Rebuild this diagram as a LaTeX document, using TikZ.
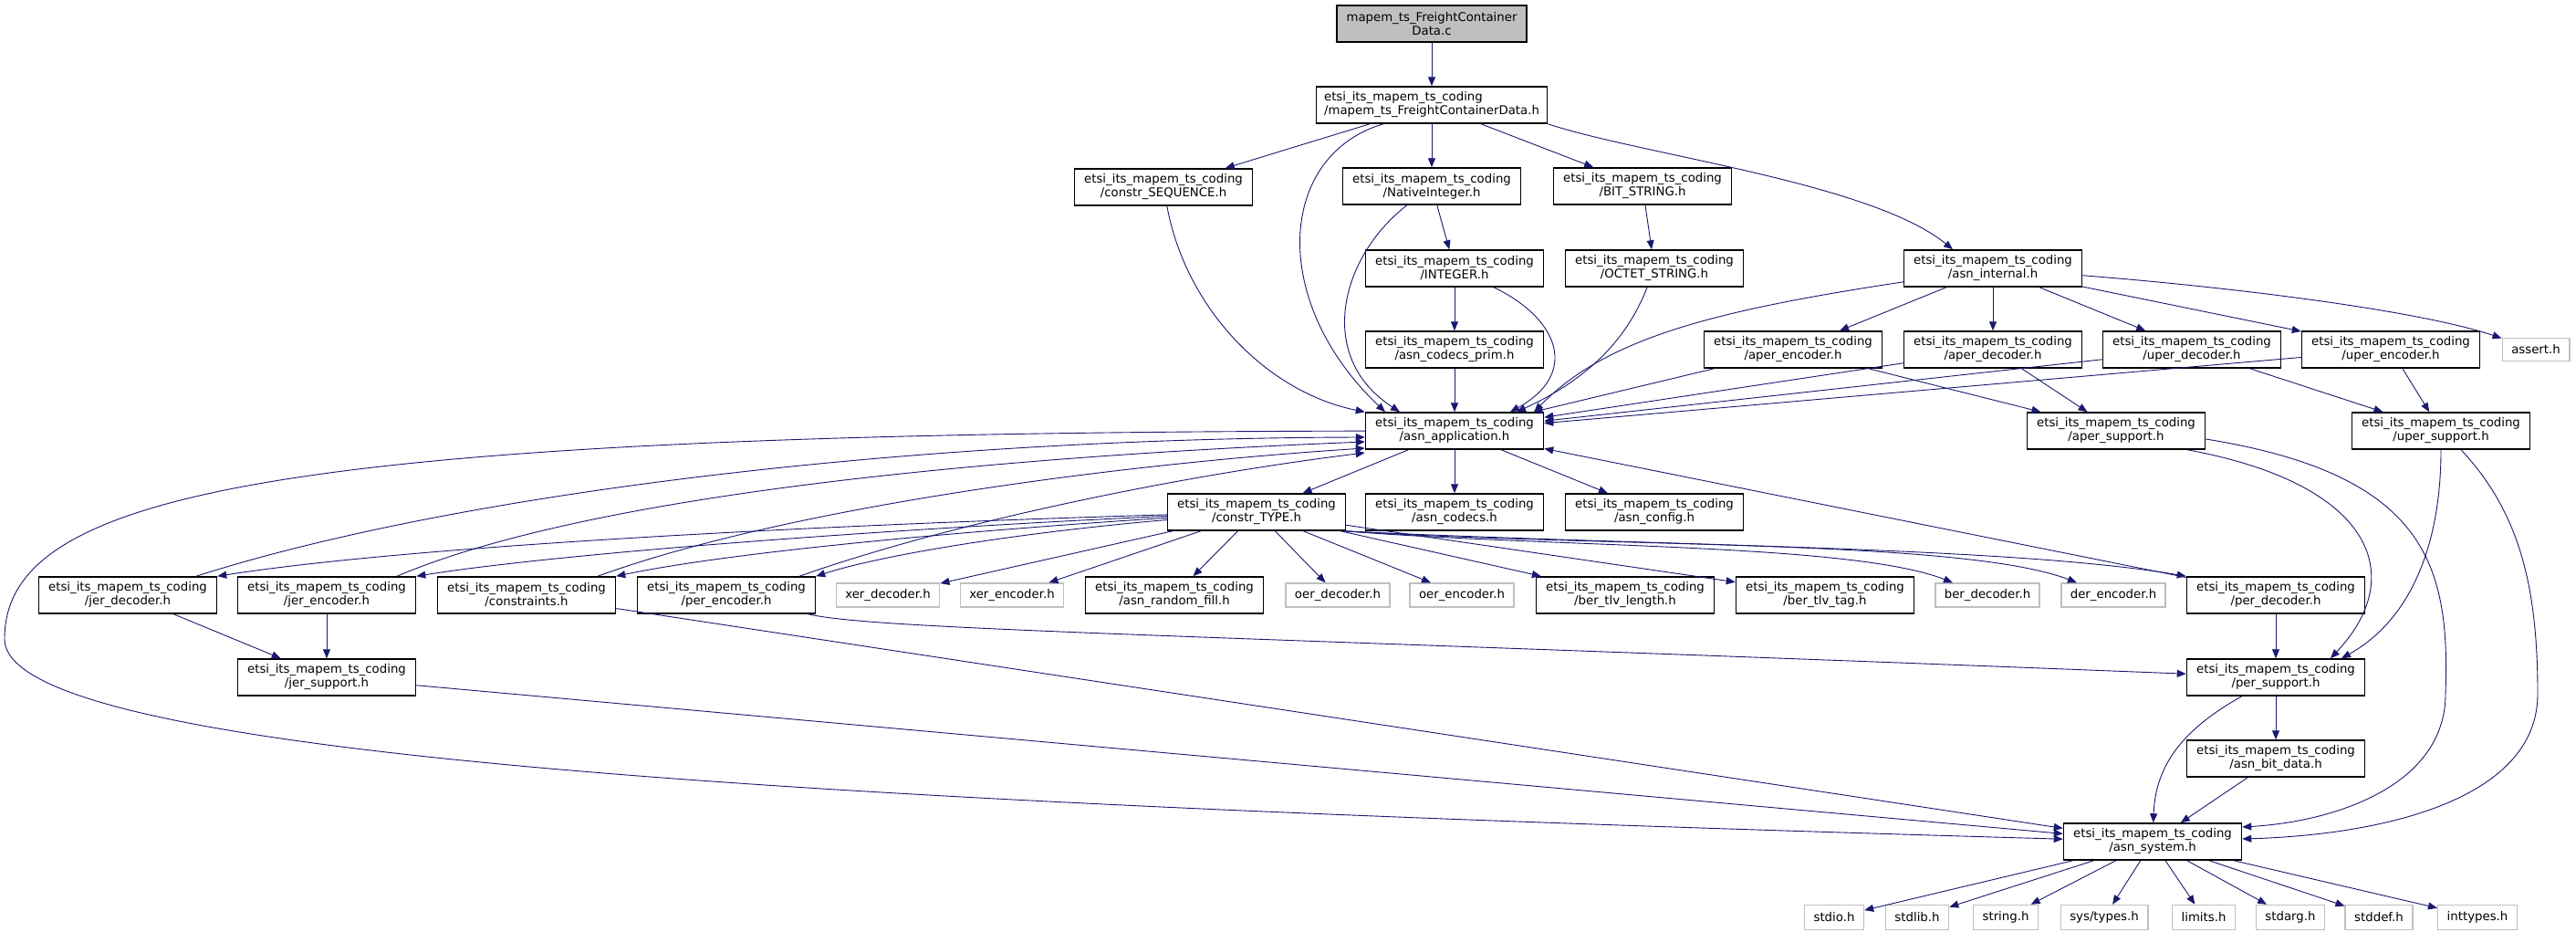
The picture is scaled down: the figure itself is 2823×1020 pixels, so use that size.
\documentclass[tikz,border=0pt]{standalone}
\usepackage{fontspec}
\setmainfont{DejaVu Sans}
\usetikzlibrary{arrows.meta}
\definecolor{edgeblue}{RGB}{25,25,112}
\definecolor{sysgray}{RGB}{191,191,191}
\newcommand{\pfx}{etsi\_its\_mapem\_ts\_coding}

\tikzset{
  file/.style={draw=black, line width=1.5pt, fill=white, minimum width=195pt, minimum height=40pt,
    inner xsep=8.5pt, inner ysep=0pt, align=center, font=\fontsize{13.3}{15}\selectfont},
  sysfile/.style={draw=sysgray, line width=1.5pt, fill=white, minimum height=26pt,
    inner xsep=10pt, inner ysep=0pt, font=\fontsize{13.3}{15}\selectfont},
  dep/.style={draw=edgeblue, line width=0.9pt, -{Triangle[length=10pt,width=8pt]}}
}

\begin{document}
\begin{tikzpicture}[x=1pt,y=-1pt]
    \useasboundingbox[fill=white] (0,0) rectangle (2823,1020);

    \node[file, fill=sysgray, minimum width=208pt] (c) at (1569,26) {mapem\_ts\_FreightContainer\\Data.c};
    \node[file, align=left] (mapemh) at (1569,115) {\pfx\\/mapem\_ts\_FreightContainerData.h};
    \node[file] (seq) at (1275,205) {\pfx\\/constr\_SEQUENCE.h};
    \node[file] (nativeint) at (1569,204) {\pfx\\/NativeInteger.h};
    \node[file] (bitstr) at (1800,204) {\pfx\\/BIT\_STRING.h};
    \node[file] (integer) at (1594,294) {\pfx\\/INTEGER.h};
    \node[file] (octet) at (1813,294) {\pfx\\/OCTET\_STRING.h};
    \node[file] (internal) at (2184,294) {\pfx\\/asn\_internal.h};
    \node[file] (prim) at (1594,383) {\pfx\\/asn\_codecs\_prim.h};
    \node[file] (aperenc) at (1965,383) {\pfx\\/aper\_encoder.h};
    \node[file] (aperdec) at (2184,383) {\pfx\\/aper\_decoder.h};
    \node[file] (uperdec) at (2402,383) {\pfx\\/uper\_decoder.h};
    \node[file] (uperenc) at (2620,383) {\pfx\\/uper\_encoder.h};
    \node[sysfile, minimum height=25pt] (assert) at (2779,383) {assert.h};
    \node[file] (app) at (1594,472) {\pfx\\/asn\_application.h};
    \node[file] (apersup) at (2319,472) {\pfx\\/aper\_support.h};
    \node[file] (upersup) at (2675,472) {\pfx\\/uper\_support.h};
    \node[file] (ctype) at (1377,561) {\pfx\\/constr\_TYPE.h};
    \node[file] (codecs) at (1594,561) {\pfx\\/asn\_codecs.h};
    \node[file] (config) at (1813,561) {\pfx\\/asn\_config.h};

    \node[file] (jerdec) at (140,652) {\pfx\\/jer\_decoder.h};
    \node[file] (jerenc) at (358,652) {\pfx\\/jer\_encoder.h};
    \node[file] (constr) at (577,652) {\pfx\\/constraints.h};
    \node[file] (perenc) at (796,652) {\pfx\\/per\_encoder.h};
    \node[sysfile] (xerdec) at (973,652) {xer\_decoder.h};
    \node[sysfile] (xerenc) at (1109,652) {xer\_encoder.h};
    \node[file] (randfill) at (1287,652) {\pfx\\/asn\_random\_fill.h};
    \node[sysfile] (oerdec) at (1466,652) {oer\_decoder.h};
    \node[sysfile] (oerenc) at (1602,652) {oer\_encoder.h};
    \node[file] (tlvlen) at (1781,652) {\pfx\\/ber\_tlv\_length.h};
    \node[file] (tlvtag) at (2000,652) {\pfx\\/ber\_tlv\_tag.h};
    \node[sysfile] (berdec) at (2178,652) {ber\_decoder.h};
    \node[sysfile] (derenc) at (2316,652) {der\_encoder.h};
    \node[file] (perdec) at (2494,652) {\pfx\\/per\_decoder.h};

    \node[file] (jersup) at (358,742) {\pfx\\/jer\_support.h};
    \node[file] (persup) at (2494,742) {\pfx\\/per\_support.h};
    \node[file] (bitdata) at (2494,831) {\pfx\\/asn\_bit\_data.h};
    \node[file] (system) at (2359,922) {\pfx\\/asn\_system.h};

    \node[sysfile, minimum height=27pt] (stdio) at (2010,1005) {stdio.h};
    \node[sysfile, minimum height=27pt] (stdlib) at (2101,1005) {stdlib.h};
    \node[sysfile, minimum height=27pt] (string) at (2198,1005) {string.h};
    \node[sysfile, minimum height=27pt] (systypes) at (2306,1005) {sys/types.h};
    \node[sysfile, minimum height=27pt] (limits) at (2415,1005) {limits.h};
    \node[sysfile, minimum height=27pt] (stdarg) at (2510,1005) {stdarg.h};
    \node[sysfile, minimum height=27pt] (stddef) at (2607,1005) {stddef.h};
    \node[sysfile, minimum height=27pt] (inttypes) at (2715,1005) {inttypes.h};

    \coordinate (leftturn) at (5,700);

    \draw[dep] (c) -- (mapemh);
    \draw[dep] (mapemh) -- (seq);
    \draw[dep] (mapemh) -- (nativeint);
    \draw[dep] (mapemh) -- (bitstr);
    \draw[dep] ([xshift=-53pt]mapemh.south) .. controls (1400,170) and (1390,330) .. ([xshift=-76pt]app.north);
    \draw[dep] (mapemh.south east) .. controls (1800,170) and (2050,200) .. ([xshift=-44pt]internal.north);
    \draw[dep] (seq) .. controls (1300,340) and (1390,430) .. (app.north west);
    \draw[dep] (nativeint) .. controls (1470,280) and (1440,390) .. ([xshift=-60pt]app.north);
    \draw[dep] (nativeint) -- (integer);
    \draw[dep] (integer) -- (prim);
    \draw[dep] (integer) .. controls (1710,350) and (1730,410) .. ([xshift=61pt]app.north);
    \draw[dep] (prim) -- (app);
    \draw[dep] (bitstr) -- (octet);
    \draw[dep] (octet) .. controls (1780,380) and (1730,420) .. ([xshift=68pt]app.north);
    \draw[dep] (internal) .. controls (1880,340) and (1760,370) .. ([xshift=-11pt]app.north east);
    \draw[dep] (internal) -- (aperenc);
    \draw[dep] (internal) -- (aperdec);
    \draw[dep] (internal) -- (uperdec);
    \draw[dep] (internal) -- (uperenc);
    \draw[dep] (internal) .. controls (2450,315) and (2650,340) .. (assert);
    \draw[dep] (aperenc) -- (app);
    \draw[dep] (aperenc) -- (apersup);
    \draw[dep] (aperdec) -- (app);
    \draw[dep] (aperdec) -- (apersup);
    \draw[dep] (uperdec) -- (app);
    \draw[dep] (uperdec) -- (upersup);
    \draw[dep] (uperenc) -- (app);
    \draw[dep] (uperenc) -- (upersup);

    \draw[dep] ([xshift=78pt]apersup.south) .. controls (2600,530) and (2640,630) .. ([xshift=60pt]persup.north);
    \draw[dep] (upersup.south) .. controls (2675,600) and (2640,680) .. ([xshift=72pt]persup.north);
    \draw[dep] ([yshift=-9pt]apersup.east) .. controls (2660,520) and (2685,620) .. (2680,760)
        .. controls (2680,860) and (2560,900) .. ([yshift=16pt]system.east);
    \draw[dep] ([xshift=22pt]upersup.south) .. controls (2760,560) and (2781,640) .. (2781,760)
        .. controls (2781,880) and (2600,915) .. ([yshift=3pt]system.east);

    \draw[dep] (app) -- (ctype);
    \draw[dep] (app) -- (codecs);
    \draw[dep] (app) -- (config);
    \draw[dep] (app) .. controls (300,474) and (5,540) .. (leftturn) .. controls (5,830) and (900,880) .. (system);
    \draw[dep] (perdec) -- (app);

    \draw[dep] (ctype) .. controls (900,575) and (450,598) .. (jerdec.north east);
    \draw[dep] (ctype) .. controls (1000,578) and (620,605) .. (jerenc.north east);
    \draw[dep] (ctype) .. controls (1050,582) and (800,605) .. (constr.north east);
    \draw[dep] (ctype) .. controls (1100,585) and (960,610) .. (perenc.north east);
    \foreach \h in {xerdec,xerenc,randfill,oerdec,oerenc,tlvlen,tlvtag}
        \draw[dep] (ctype) -- (\h);
    \draw[dep] ([xshift=-2pt]ctype.south east) .. controls (1700,600) and (2030,595) .. ([xshift=-38pt]berdec.north);
    \draw[dep] ([xshift=-2pt]ctype.south east) .. controls (1750,600) and (2150,590) .. ([xshift=-40pt]derenc.north);
    \draw[dep] ([xshift=-2pt]ctype.south east) .. controls (1800,598) and (2200,598) .. (perdec.north west);

    \draw[dep] ([xshift=75pt]jerdec.north) .. controls (500,540) and (1000,480) .. ([yshift=-7pt]app.west);
    \draw[dep] ([xshift=77pt]jerenc.north) .. controls (650,540) and (1100,500) .. ([yshift=-12pt]app.west);
    \draw[dep] ([xshift=78pt]constr.north) .. controls (850,560) and (1200,510) .. ([yshift=-19pt]app.west);
    \draw[dep] ([xshift=80pt]perenc.north) .. controls (1050,570) and (1300,520) .. ([yshift=-24pt]app.west);
    \draw[dep] (jerdec) -- (jersup);
    \draw[dep] (jerenc) -- (jersup);
    \draw[dep] (jersup) -- (system);
    \draw[dep] (constr) -- (system);
    \draw[dep] (perenc) .. controls (960,690) and (1300,695) .. (persup);
    \draw[dep] (perdec) -- (persup);
    \draw[dep] (persup) -- (bitdata);
    \draw[dep] (persup) .. controls (2390,800) and (2362,840) .. (system);
    \draw[dep] (bitdata) -- (system);

    \foreach \h in {stdio,stdlib,string,systypes,limits,stdarg,stddef,inttypes}
        \draw[dep] (system) -- (\h);
\end{tikzpicture}
\end{document}
